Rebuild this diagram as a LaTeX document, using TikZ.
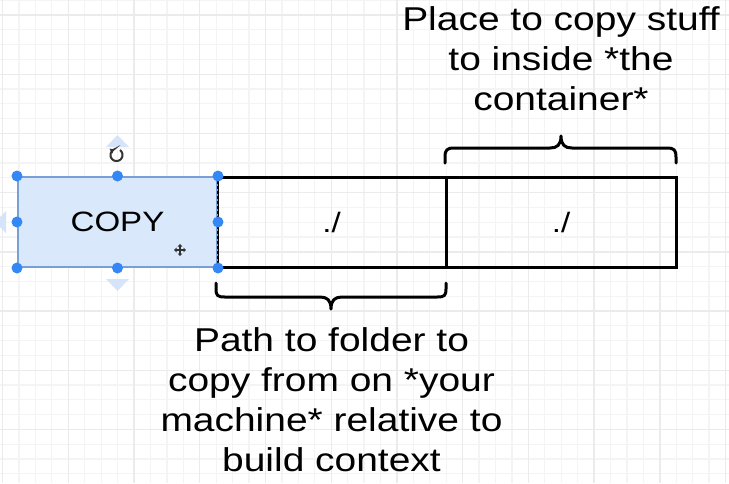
\documentclass[tikz,border=0pt]{standalone}
\usepackage{fontspec}
\setmainfont{Liberation Sans}
\usetikzlibrary{arrows.meta}
\definecolor{gridminor}{RGB}{244,244,244}
\definecolor{gridmajor}{RGB}{235,235,235}
\definecolor{selfill}{HTML}{DAE8FC}
\definecolor{seledge}{RGB}{120,160,215}
\definecolor{handle}{RGB}{52,136,245}
\definecolor{hint}{RGB}{214,228,250}
\definecolor{icon}{RGB}{50,50,50}
\begin{document}
\begin{tikzpicture}[x=1pt,y=-1pt,
  cell/.style={draw=black, line width=3pt, rectangle, minimum height=90pt,
    inner sep=0pt},
  celltext/.style={font=\fontsize{28}{32}\selectfont},
  brace/.style={draw=black, line width=3pt, line cap=round, line join=round},
  note/.style={align=center, font=\fontsize{33}{40}\selectfont, xscale=1.18,
    inner sep=0pt},
  grip/.style={circle, fill=handle, minimum size=11pt, inner sep=0pt},
]
\useasboundingbox (0,0) rectangle (729,483);
\fill[white] (0,0) rectangle (729,483);

% background grid
\foreach \i in {0,...,44}
  \draw[gridminor, line width=1.2pt] ({2.6+16.43*\i},0) -- ({2.6+16.43*\i},483);
\foreach \j in {0,...,33}
  \draw[gridminor, line width=1.2pt] (0,{0.2+14.8*\j}) -- (729,{0.2+14.8*\j});
\foreach \i in {0,...,11}
  \draw[gridmajor, line width=1.4pt] ({2.6+65.72*\i},0) -- ({2.6+65.72*\i},483);
\foreach \j in {0,...,8}
  \draw[gridmajor, line width=1.4pt] (0,{15+59.2*\j}) -- (729,{15+59.2*\j});

% instruction row
\node[cell, minimum width=230pt] (dst) at (561,222) {};
\node[cell, minimum width=229pt] (src) at (331.5,222) {};
\node[cell, draw=seledge, line width=2pt, fill=selfill, minimum width=199pt]
  (cmd) at (117.5,222) {};
\draw[black, line width=2pt, dash pattern=on 3pt off 2pt] (cmd.north east) -- (cmd.south east);
\node[celltext, xscale=1.18] (cmdText) at (cmd) {COPY};
\node[celltext, xscale=1.18] (srcText) at (src) {./};
\node[celltext, xscale=1.18] (dstText) at (dst) {./};

% selection hints around the COPY cell
\fill[hint] (106,147) -- (129,147) -- (117.5,135) -- cycle;
\fill[hint] (106,279) -- (129,279) -- (117.5,291) -- cycle;
\fill[hint] (6,211) -- (6,233) -- (0,227) -- (0,217) -- cycle;
\foreach \a [count=\k] in {north west, north, north east, west, east,
    south west, south, south east}
  \node[grip] (grip\k) at (cmd.\a) {};

% rotate icon: open ring with a small head, gap at the top
\draw[icon, line width=2pt, -{Triangle[length=3.5pt,width=5.5pt]}]
  plot[domain=-55:245, samples=40, smooth] ({116.5+6*cos(\x)},{155+6*sin(\x)});

% move cursor
\draw[icon, line width=1.8pt, {Triangle[length=2.5pt,width=4.5pt]}-{Triangle[length=2.5pt,width=4.5pt]}]
  (174,250) -- (186,250);
\draw[icon, line width=1.8pt, {Triangle[length=2.5pt,width=4.5pt]}-{Triangle[length=2.5pt,width=4.5pt]}]
  (180,244) -- (180,256);

% braces
\draw[brace] (445,163) -- (445,157) .. controls (445,150) and (447,148) .. (454,148)
  -- (550,148) .. controls (557,148) and (561,145) .. (561,136)
  .. controls (561,145) and (565,148) .. (572,148)
  -- (667,148) .. controls (674,148) and (676,150) .. (676,157) -- (676,163);
\draw[brace] (216,283) -- (216,289) .. controls (216,296) and (218,297) .. (225,297)
  -- (320,297) .. controls (327,297) and (331,300) .. (331,309)
  .. controls (331,300) and (335,297) .. (342,297)
  -- (437,297) .. controls (444,297) and (446,296) .. (446,289) -- (446,283);

% notes (anchored at the baseline of their last line)
\node[note, anchor=base] (placeNote) at (561,110.7)
  {Place to copy stuff\\to inside *the\\container*};
\node[note, anchor=base] (pathNote) at (331.5,471)
  {Path to folder to\\copy from on *your\\machine* relative to\\build context};
\end{tikzpicture}
\end{document}
